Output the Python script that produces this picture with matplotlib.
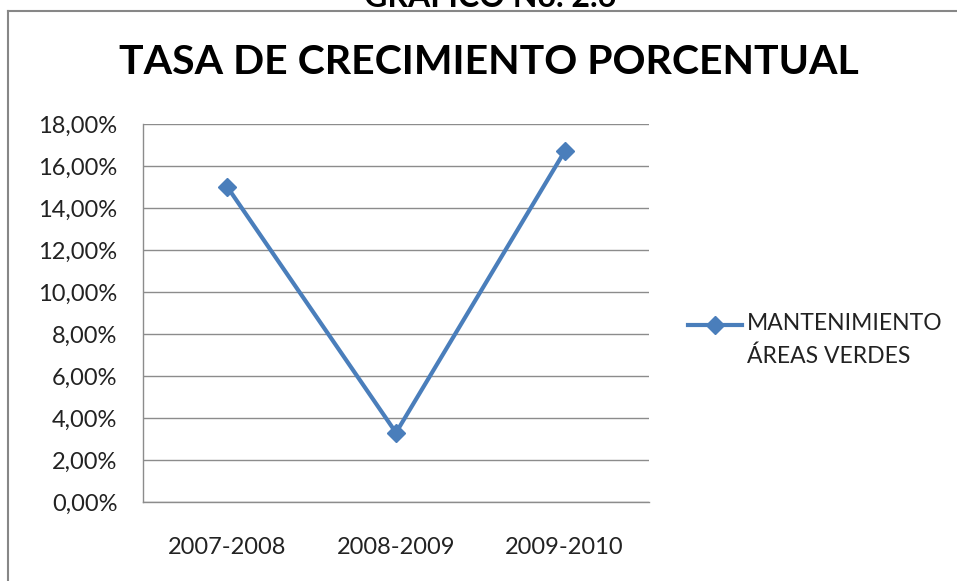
import matplotlib
matplotlib.use("Agg")
import matplotlib.pyplot as plt
from matplotlib.lines import Line2D

categories = ["2007-2008", "2008-2009", "2009-2010"]
values = [15.0, 3.3, 16.7]
yticks = [0, 2, 4, 6, 8, 10, 12, 14, 16, 18]
series_name = "MANTENIMIENTO\nÁREAS VERDES"
title = "TASA DE CRECIMIENTO PORCENTUAL"
header = "GRAFICO No. 2.6"

plt.rcParams['font.family'] = ['Lato', 'DejaVu Sans']
W, H = 957, 581
fig = plt.figure(figsize=(W / 100, H / 100), dpi=100)
ax = fig.add_axes([143 / W, 1 - 502 / H, (649 - 143) / W, (502 - 124) / H])

color = "#4A7EBB"
x = list(range(len(categories)))
ax.plot(x, values, color=color, lw=3, marker="D", markersize=9, zorder=3)

ax.set_xlim(-0.5, len(categories) - 0.5)
ax.set_ylim(0, 18)
ax.set_yticks(yticks)
ax.set_yticklabels([f"{v:.2f}".replace(".", ",") + "%" for v in yticks], fontsize=17)
ax.set_xticks(x)
ax.set_xticklabels(categories, fontsize=17)
ax.tick_params(axis="both", length=0, colors="#222222")
ax.tick_params(axis="y", pad=18.5)
ax.tick_params(axis="x", pad=25)
ax.yaxis.grid(True, color="#8c8c8c", lw=1)
ax.set_axisbelow(True)
for s in ["top", "right"]:
    ax.spines[s].set_visible(False)
for s in ["left", "bottom"]:
    ax.spines[s].set_color("#8c8c8c")
    ax.spines[s].set_linewidth(1)

# title and header
fig.text(489 / W, 1 - 63 / H, title, ha="center", va="center",
         fontsize=29.5, fontweight="bold", color="black")
fig.text(490 / W, 1 - 7 / H, header, ha="center", va="baseline",
         fontsize=23, fontweight="bold", color="black")

# outer frame (top and left visible)
fig.add_artist(Line2D([8 / W, 1], [1 - 11 / H, 1 - 11 / H], transform=fig.transFigure,
                      color="#878787", lw=1.5))
fig.add_artist(Line2D([8 / W, 8 / W], [0, 1 - 11 / H], transform=fig.transFigure,
                      color="#878787", lw=1.5))

# legend
fig.add_artist(Line2D([688 / W, 742 / W], [1 - 325 / H, 1 - 325 / H], transform=fig.transFigure,
                      color=color, lw=3))
fig.add_artist(Line2D([715 / W], [1 - 325 / H], transform=fig.transFigure,
                      color=color, marker="D", markersize=9, lw=0))
fig.text(747 / W, 1 - 313 / H, series_name, ha="left", va="top", fontsize=16.5,
         color="#222222", linespacing=1.65,
         transform=fig.transFigure)

fig.savefig("out.png", dpi=100)
